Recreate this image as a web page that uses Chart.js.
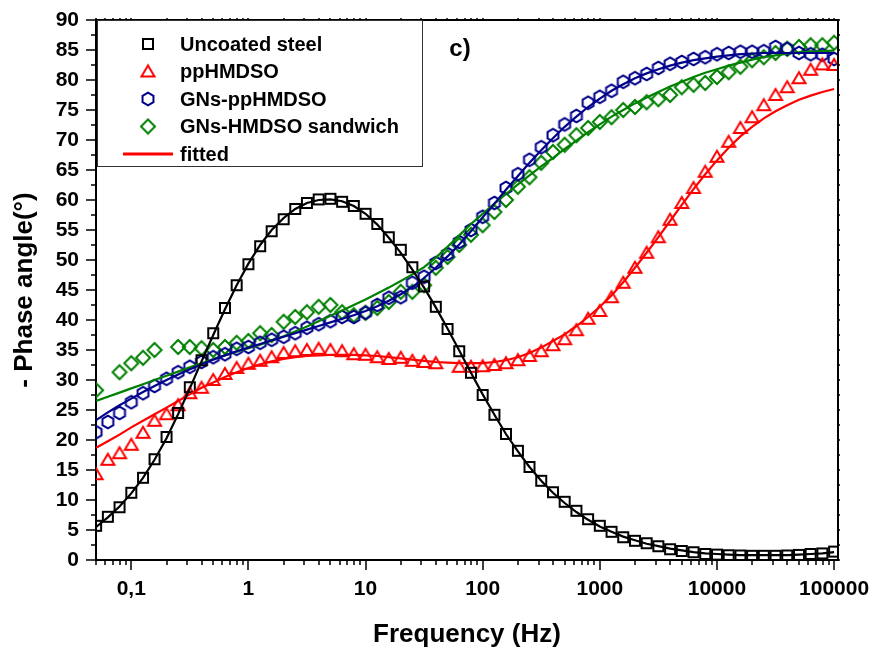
<!DOCTYPE html>
<html>
<head>
<meta charset="utf-8">
<script src="https://cdn.jsdelivr.net/npm/chart.js@4.4.0/dist/chart.umd.min.js"></script>
<style>
  html, body { margin: 0; padding: 0; background: #fff; }
</style>
</head>
<body>
<canvas id="phaseChart" width="874" height="652"></canvas>
<script>
// frequencies (Hz), 10 points per decade
const freq = [0.0501, 0.0631, 0.0794, 0.1, 0.126, 0.158, 0.2, 0.251, 0.316, 0.398,
  0.501, 0.631, 0.794, 1, 1.26, 1.58, 2, 2.51, 3.16, 3.98,
  5.01, 6.31, 7.94, 10, 12.6, 15.8, 20, 25.1, 31.6, 39.8,
  50.1, 63.1, 79.4, 100, 126, 158, 200, 251, 316, 398,
  501, 631, 794, 1000, 1259, 1585, 1995, 2512, 3162, 3981,
  5012, 6310, 7943, 10000, 12589, 15849, 19953, 25119, 31623, 39811,
  50119, 63096, 79433, 100000];

// measured - phase angle (deg)
const uncoated = [5.7, 7.2, 8.8, 11.2, 13.7, 16.8, 20.5, 24.5, 28.8, 33.3,
  37.8, 42, 45.8, 49.3, 52.3, 54.8, 56.8, 58.5, 59.5, 60.1,
  60.2, 59.7, 59, 57.7, 56, 53.8, 51.7, 48.8, 45.6, 42.2,
  38.5, 34.8, 31.2, 27.5, 24.2, 21, 18.2, 15.5, 13.2, 11.3,
  9.7, 8.2, 6.8, 5.7, 4.7, 3.8, 3.2, 2.8, 2.3, 1.8,
  1.5, 1.3, 1.0, 0.9, 0.8, 0.75, 0.7, 0.7, 0.7, 0.75,
  0.85, 1.0, 1.1, 1.4];
const ppHMDSO = [14.3, 16.7, 17.8, 19.2, 21.2, 23.2, 24.3, 25.8, 27.8, 28.7,
  30, 31, 32, 32.7, 33.2, 33.8, 34.5, 34.8, 35, 35.2,
  35, 34.8, 34.3, 34.2, 33.8, 33.5, 33.7, 33.2, 33, 32.8,
  null, 32.2, 32.2, 32.3, 32.5, 32.8, 33.3, 34, 34.8, 35.8,
  36.8, 38.3, 40.2, 41.5, 43.8, 46.2, 48.7, 51.2, 53.8, 56.7,
  59.5, 62, 64.7, 67.2, 69.7, 72, 73.8, 75.8, 77.5, 78.8,
  80.3, 81.7, 82.6, 82.5];
const gnsPp = [21.3, 23, 24.5, 26.3, 27.8, 29, 30.2, 31.3, 32.2, 33,
  33.8, 34.3, 35.2, 35.5, 36.2, 36.7, 37.2, 37.8, 38.7, 39.3,
  39.8, 40.5, 40.5, 41.2, 42.5, 43.7, 43.8, 46.2, 47.2, 49.5,
  51, 53, 55, 57.2, 59.5, 62, 64.3, 66.7, 68.8, 70.8,
  72.6, 74, 76.2, 77.2, 78.2, 79.7, 80.3, 81, 82, 82.7,
  83, 83.5, 83.8, 84.3, 84.5, 84.7, 84.7, 84.8, 85.5, 85.2,
  84.5, 84.3, 84.2, 83.5];
const sandwich = [28.3, null, 31.3, 32.8, 33.7, 35, null, 35.5, 35.5, 35.3,
  35, 35.5, 36.2, 36.5, 37.8, 37.5, 39.7, 40.5, 41.3, 42.2,
  42.5, 41.3, 40.8, 41.2, 42, 43, 44.7, 44.7, 45.8, 48.7,
  50.5, 52.5, 54.2, 55.8, 58, 60, 62.2, 63.8, 66.2, 68,
  69.2, 70.8, 72, 73, 73.8, 75, 75.5, 76.3, 76.8, 77.5,
  78.8, 79.2, 79.5, 80.5, 81.3, 82.2, 83.3, 83.8, 84.5, 85.2,
  85.5, 85.8, 85.8, 86.2];

// fitted curves
const uncoatedFit = [5.5, 7.1, 8.9, 11.1, 13.7, 16.7, 20.3, 24.3, 28.6, 33.1,
  37.5, 41.8, 45.8, 49.4, 52.5, 55.0, 57.0, 58.5, 59.5, 60.0,
  60.1, 59.8, 59.0, 57.7, 55.9, 53.7, 51.2, 48.4, 45.4, 42.1,
  38.6, 34.9, 31.2, 27.6, 24.2, 21.0, 18.1, 15.5, 13.2, 11.2,
  9.5, 8.0, 6.7, 5.6, 4.7, 3.9, 3.3, 2.7, 2.3, 1.9,
  1.6, 1.3, 1.1, 1.0, 0.9, 0.8, 0.8, 0.8, 0.8, 0.8,
  0.9, 1.0, 1.1, 1.3];
const ppFit = [18.7, 19.8, 20.9, 22.1, 23.2, 24.3, 25.4, 26.5, 27.6, 28.7,
  29.6, 30.5, 31.3, 32, 32.6, 33.1, 33.5, 33.8, 34, 34.1,
  34.2, 34.2, 34.2, 34.1, 34, 33.8, 33.6, 33.4, 33.2, 33,
  32.9, 32.8, 32.8, 32.8, 33, 33.3, 33.8, 34.5, 35.4, 36.5,
  37.6, 39, 40.5, 42.2, 44.1, 46.3, 48.7, 51.2, 53.8, 56.5,
  59.2, 61.8, 64.3, 66.6, 68.7, 70.6, 72.2, 73.6, 74.8, 75.8,
  76.7, 77.4, 78, 78.5];
const gnsPpFit = [23.3, 24.6, 25.8, 26.9, 28, 29, 30, 30.9, 31.8, 32.6,
  33.4, 34.1, 34.8, 35.4, 36, 36.6, 37.2, 37.8, 38.4, 39,
  39.6, 40.2, 40.8, 41.5, 42.3, 43.2, 44.3, 45.5, 47, 48.7,
  50.6, 52.6, 54.8, 57.1, 59.4, 61.7, 64, 66.2, 68.3, 70.3,
  72.2, 73.9, 75.5, 76.9, 78.2, 79.3, 80.3, 81.1, 81.8, 82.4,
  82.9, 83.3, 83.6, 83.9, 84.1, 84.3, 84.4, 84.5, 84.5, 84.5,
  84.5, 84.5, 84.5, 84.5];
const sandwichFit = [26.5, 27.2, 27.9, 28.6, 29.3, 30, 30.7, 31.4, 32.1, 32.8,
  33.5, 34.1, 34.7, 35.3, 35.9, 36.6, 37.3, 38.1, 38.9, 39.8,
  40.7, 41.6, 42.5, 43.4, 44.4, 45.4, 46.5, 47.6, 48.8, 50.4,
  52.2, 54.1, 56, 57.7, 59.4, 61, 62.6, 64.1, 65.6, 67,
  68.5, 69.9, 71.3, 72.6, 73.9, 75, 76.1, 77.1, 78, 78.9,
  79.7, 80.5, 81.2, 81.8, 82.4, 82.9, 83.4, 83.8, 84.1, 84.4,
  84.6, 84.7, 84.8, 84.9];

const FONT = 'Arial, "Liberation Sans", Helvetica, sans-serif';
Chart.defaults.font.family = FONT;
Chart.defaults.color = '#000';

// open marker symbols drawn on small canvases
function marker(shape, color) {
  const s = 18, m = 9;
  const c = document.createElement('canvas');
  c.width = s; c.height = s;
  const g = c.getContext('2d');
  g.strokeStyle = color;
  g.lineWidth = 2;
  g.beginPath();
  if (shape === 'square') {
    g.rect(m - 5, m - 5, 10, 10);
  } else if (shape === 'triangle') {
    g.moveTo(m, m - 6); g.lineTo(m + 6.5, m + 5); g.lineTo(m - 6.5, m + 5); g.closePath();
  } else if (shape === 'hexagon') {
    for (let k = 0; k < 6; k++) {
      const a = -Math.PI / 2 + k * Math.PI / 3;
      g.lineTo(m + 6.3 * Math.cos(a), m + 6.3 * Math.sin(a));
    }
    g.closePath();
  } else {
    g.moveTo(m, m - 7); g.lineTo(m + 7, m); g.lineTo(m, m + 7); g.lineTo(m - 7, m); g.closePath();
  }
  g.stroke();
  return c;
}

const pts = (xs, ys) => xs.map((x, i) => ({ x: x, y: ys[i] })).filter(p => p.y !== null);

function measured(label, ys, shape, color) {
  return { label: label, data: pts(freq, ys), showLine: false, pointStyle: marker(shape, color),
    pointRadius: 6, borderColor: color, backgroundColor: color, order: 2 };
}
function fitted(ys, color) {
  return { label: 'fitted', data: pts(freq, ys), showLine: true, pointRadius: 0,
    borderColor: color, borderWidth: 2.2, fill: false, order: 1 };
}

const datasets = [
  measured('Uncoated steel', uncoated, 'square', '#000000'),
  measured('ppHMDSO', ppHMDSO, 'triangle', '#ff0000'),
  measured('GNs-ppHMDSO', gnsPp, 'hexagon', '#00008b'),
  measured('GNs-HMDSO sandwich', sandwich, 'diamond', '#008000'),
  fitted(uncoatedFit, '#000000'),
  fitted(ppFit, '#ff0000'),
  fitted(gnsPpFit, '#00008b'),
  fitted(sandwichFit, '#008000')
];

// box frame, minor/major ticks, legend box and panel label
const extras = {
  id: 'extras',
  afterDraw(chart) {
    const { ctx, chartArea: a, scales: { x, y } } = chart;
    ctx.save();
    ctx.strokeStyle = '#000';
    ctx.lineWidth = 2;
    ctx.beginPath();
    ctx.moveTo(a.left, a.top); ctx.lineTo(a.right, a.top); ctx.lineTo(a.right, a.bottom);
    ctx.stroke();

    ctx.lineWidth = 1.5;
    x.ticks.forEach(t => {
      const v = t.value;
      const e = Math.floor(Math.log10(v) + 1e-9);
      const m = v / Math.pow(10, e);
      if (Math.abs(m - Math.round(m)) > 1e-6) return;
      const major = Math.round(m) === 1 || Math.round(m) === 10;
      const px = Math.round(x.getPixelForValue(v));
      ctx.beginPath();
      ctx.moveTo(px, a.bottom); ctx.lineTo(px, a.bottom + (major ? 10 : 5));
      ctx.moveTo(px, a.top); ctx.lineTo(px, a.top - 2);
      ctx.stroke();
    });
    for (let v = 0; v <= 90; v += 2.5) {
      const major = v % 5 === 0;
      const py = Math.round(y.getPixelForValue(v));
      ctx.beginPath();
      ctx.moveTo(a.left, py); ctx.lineTo(a.left - (major ? 10 : 5), py);
      ctx.moveTo(a.right, py); ctx.lineTo(a.right + 2, py);
      ctx.stroke();
    }

    // legend
    const bx = a.left + 1, by = a.top, bw = 325, bh = 146;
    ctx.fillStyle = '#fff';
    ctx.fillRect(bx, by, bw, bh);
    ctx.lineWidth = 1;
    ctx.strokeStyle = '#333';
    ctx.strokeRect(bx + 0.5, by + 0.5, bw, bh);
    ctx.font = 'bold 20px ' + FONT;
    ctx.textAlign = 'left';
    ctx.textBaseline = 'middle';
    ctx.fillStyle = '#000';
    const rows = [0, 1, 2, 3, 4];
    rows.forEach((di, r) => {
      const ds = chart.data.datasets[di === 4 ? 5 : di];
      const cy = by + 24 + r * 27.5;
      if (di === 4) {
        ctx.strokeStyle = ds.borderColor;
        ctx.lineWidth = 3;
        ctx.beginPath(); ctx.moveTo(bx + 26, cy); ctx.lineTo(bx + 76, cy); ctx.stroke();
      } else {
        const img = ds.pointStyle;
        ctx.drawImage(img, bx + 51 - img.width / 2, cy - img.height / 2);
      }
      ctx.fillText(ds.label, bx + 83, cy + 1);
    });

    ctx.font = 'bold 24px ' + FONT;
    ctx.textAlign = 'center';
    ctx.fillText('c)', 460, 49);
    ctx.restore();
  }
};

const tickFont = { size: 21, weight: 'bold' };
const titleFont = { size: 26, weight: 'bold' };

new Chart(document.getElementById('phaseChart'), {
  type: 'scatter',
  data: { datasets: datasets },
  options: {
    responsive: false,
    animation: false,
    layout: { padding: { top: 20, right: 36, left: 0, bottom: 0 } },
    plugins: { legend: { display: false }, tooltip: { enabled: false } },
    scales: {
      x: {
        type: 'logarithmic',
        position: 'bottom',
        min: 0.05,
        max: 108000,
        grid: { display: true, drawOnChartArea: false, drawTicks: false },
        border: { display: true, color: '#000', width: 2 },
        ticks: {
          autoSkip: false, maxRotation: 0, padding: 17, color: '#000', font: tickFont,
          callback: function (v) {
            const l = Math.log10(v);
            if (Math.abs(l - Math.round(l)) > 1e-6) return '';
            const p = Math.round(l);
            if (p < -1) return '';
            return p === -1 ? '0,1' : String(Math.pow(10, p));
          }
        },
        title: { display: true, text: 'Frequency (Hz)', color: '#000', font: titleFont, padding: { top: 0, bottom: 2 } },
        afterFit: s => { s.height = 92; s.paddingLeft = 0; s.paddingRight = 0; }
      },
      y: {
        min: 0,
        max: 90,
        grid: { display: true, drawOnChartArea: false, drawTicks: false },
        border: { display: true, color: '#000', width: 2 },
        ticks: { stepSize: 5, padding: 17, color: '#000', font: tickFont },
        title: { display: true, text: '- Phase angle(°)', color: '#000', font: titleFont, padding: { top: 9, bottom: 0 } },
        afterFit: s => { s.width = 96; s.paddingTop = 0; s.paddingBottom = 0; }
      }
    }
  },
  plugins: [extras]
});
</script>
</body>
</html>
